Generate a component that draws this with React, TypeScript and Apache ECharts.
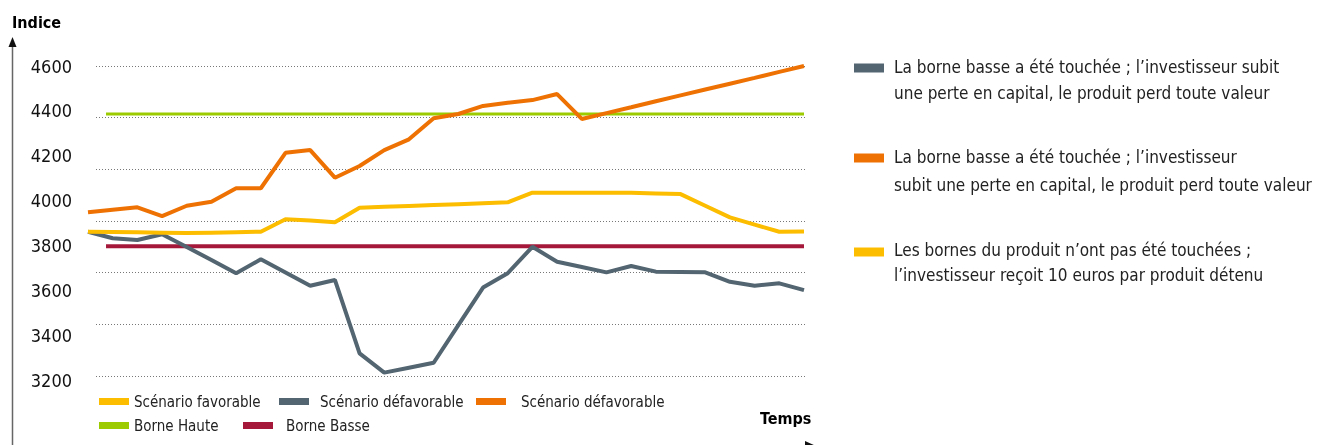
import React, { useEffect, useRef } from "react";
import * as echarts from "echarts";

const FONT = "'DejaVu Sans Condensed', 'DejaVu Sans', sans-serif";

// x positions are time steps 0..29
const steps: number[] = Array.from({ length: 30 }, (_, i) => i);

const yTicks = { min: 3200, max: 4600, interval: 200 };

const favorable = [
  3861, 3860, 3859, 3857, 3855, 3857, 3859, 3861, 3917, 3911,
  3903, 3968, 3972, 3976, 3980, 3984, 3988, 3992, 4035, 4035,
  4035, 4035, 4035, 4032, 4029, 3977, 3925, 3893, 3861, 3862,
];

const defavorableGris = [
  3861, 3832, 3824, 3850, 3793, 3735, 3676, 3738, 3679, 3620,
  3646, 3319, 3233, 3255, 3277, 3445, 3612, 3676, 3794, 3727,
  3704, 3680, 3708, 3683, 3682, 3680, 3638, 3620, 3631, 3601,
];

const defavorableOrange = [
  3948, 3959, 3970, 3931, 3977, 3995, 4055, 4055, 4213, 4225,
  4102, 4154, 4225, 4273, 4367, 4386, 4422, 4436, 4448, 4475,
  4364, 4390, 4416, 4443, 4469, 4495, 4521, 4547, 4574, 4600,
];

const borneHaute = 4386;
const borneBasse = 3796;
const borneStart = 0.73;
const borneEnd = 29;

const names = {
  fav: "Scénario favorable",
  gris: "Scénario défavorable",
  orange: "Scénario défavorable ",
  haute: "Borne Haute",
  basse: "Borne Basse",
};

const colors = {
  fav: "#FCBC00",
  gris: "#526570",
  orange: "#EE7203",
  haute: "#9BCB00",
  basse: "#A5183A",
};

const rightLegend = [
  {
    color: colors.gris,
    lines: [
      "La borne basse a été touchée ; l’investisseur subit",
      "une perte en capital, le produit perd toute valeur",
    ],
    swatchY: 68,
    lineY: [67, 93],
  },
  {
    color: colors.orange,
    lines: [
      "La borne basse a été touchée ; l’investisseur",
      "subit une perte en capital, le produit perd toute valeur",
    ],
    swatchY: 158,
    lineY: [157, 185],
  },
  {
    color: colors.fav,
    lines: [
      "Les bornes du produit n’ont pas été touchées ;",
      "l’investisseur reçoit 10 euros par produit détenu",
    ],
    swatchY: 252,
    lineY: [250, 275],
  },
];

export default function App() {
  const ref = useRef<HTMLDivElement>(null);

  useEffect(() => {
    if (!ref.current) return;
    const chart = echarts.init(ref.current, undefined, { renderer: "svg" });

    const toPts = (arr: number[]) => arr.map((v, i) => [steps[i], v]);

    const legendBase = (name: string, left: number, top: number, pad = 0, label?: string) => ({
      data: [name],
      left,
      top,
      padding: 0,
      icon: "rect",
      itemWidth: 30,
      itemHeight: 7,
      selectedMode: false,
      formatter: label ? () => label : undefined,
      textStyle: {
        fontFamily: FONT,
        fontSize: 15,
        color: "#222",
        padding: [0, 0, 0, pad],
      },
    });

    const graphics: any[] = [
      {
        type: "line",
        shape: { x1: 12.5, y1: 46, x2: 12.5, y2: 445 },
        style: { stroke: "#666", lineWidth: 1.5 },
      },
      {
        type: "polygon",
        shape: { points: [[12.5, 37], [8.5, 47], [16.5, 47]] },
        style: { fill: "#111" },
      },
      {
        type: "polygon",
        shape: { points: [[805, 441], [816, 446], [805, 451]] },
        style: { fill: "#111" },
      },
      {
        type: "text",
        style: {
          text: "Indice",
          x: 12,
          y: 22,
          verticalAlign: "middle",
          fontFamily: FONT,
          fontSize: 16,
          fontWeight: "bold",
          fill: "#000",
        },
      },
      {
        type: "text",
        style: {
          text: "Temps",
          x: 760,
          y: 418,
          verticalAlign: "middle",
          fontFamily: FONT,
          fontSize: 16,
          fontWeight: "bold",
          fill: "#000",
        },
      },
    ];

    rightLegend.forEach((item) => {
      graphics.push({
        type: "rect",
        shape: { x: 854, y: item.swatchY - 4.5, width: 30, height: 9 },
        style: { fill: item.color },
      });
      item.lines.forEach((ln, k) => {
        graphics.push({
          type: "text",
          style: {
            text: ln,
            x: 894,
            y: item.lineY[k],
            verticalAlign: "middle",
            fontFamily: FONT,
            fontSize: 17,
            fill: "#222",
          },
        });
      });
    });

    const lineSeries = (name: string, data: any[], color: string, width: number, z: number) => ({
      name,
      type: "line",
      data,
      xAxisIndex: 0,
      yAxisIndex: 0,
      showSymbol: false,
      symbol: "none",
      color,
      lineStyle: { color, width },
      z,
      silent: true,
    });

    chart.setOption({
      animation: false,
      grid: [
        { left: 88, right: 520, top: 66, bottom: 65 },
        { left: 96, right: 519, top: 66, bottom: 69 },
      ],
      xAxis: [
        { type: "value", gridIndex: 0, min: 0, max: 29, show: false },
        { type: "value", gridIndex: 1, min: 0, max: 1, show: false },
      ],
      yAxis: [
        {
          type: "value",
          gridIndex: 0,
          min: yTicks.min,
          max: yTicks.max,
          interval: yTicks.interval,
          axisLine: { show: false },
          axisTick: { show: false },
          splitLine: { show: false },
          axisLabel: {
            fontFamily: FONT,
            fontSize: 18,
            color: "#111",
            margin: 16,
            formatter: (v: number) => String(v),
          },
        },
        {
          type: "value",
          gridIndex: 1,
          min: 0,
          max: 6,
          interval: 1,
          axisLine: { show: false },
          axisTick: { show: false },
          axisLabel: { show: false },
          splitLine: {
            show: true,
            lineStyle: { type: [1, 2], color: "#777", width: 1 },
          },
        },
      ],
      legend: [
        legendBase(names.fav, 99, 394),
        legendBase(names.gris, 279, 394, 6),
        legendBase(names.orange, 476, 394, 10, "Scénario défavorable"),
        legendBase(names.haute, 99, 418),
        legendBase(names.basse, 243, 418, 8),
      ],
      series: [
        lineSeries(names.haute, [[borneStart, borneHaute], [borneEnd, borneHaute]], colors.haute, 3, 2),
        lineSeries(names.basse, [[borneStart, borneBasse], [borneEnd, borneBasse]], colors.basse, 4, 2),
        lineSeries(names.gris, toPts(defavorableGris), colors.gris, 4, 3),
        lineSeries(names.orange, toPts(defavorableOrange), colors.orange, 4, 3),
        lineSeries(names.fav, toPts(favorable), colors.fav, 4, 4),
      ],
      graphic: graphics,
    });

    return () => chart.dispose();
  }, []);

  return (
    <div
      ref={ref}
      style={{ position: "fixed", left: 0, top: 0, width: 1324, height: 445 }}
    />
  );
}
